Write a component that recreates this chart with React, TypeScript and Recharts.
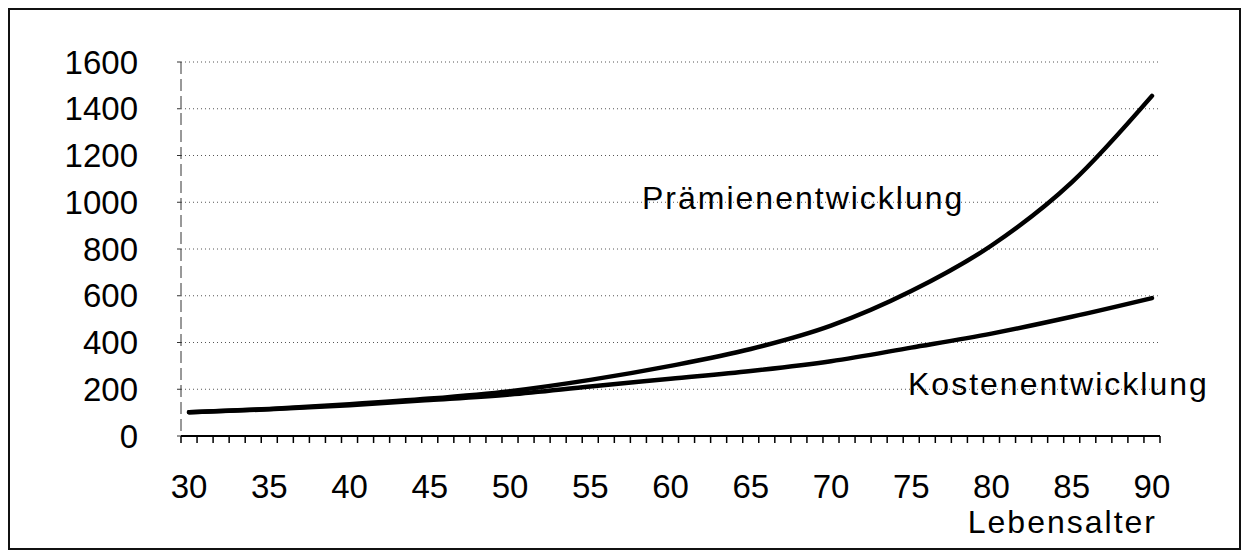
import { CartesianGrid, Line, LineChart, XAxis, YAxis } from "recharts";

// Lebensalter (every 5 years) and the two curves
const ages = [30, 35, 40, 45, 50, 55, 60, 65, 70, 75, 80, 85, 90];
const praemien = [102, 116, 136, 160, 192, 240, 300, 372, 472, 620, 815, 1085, 1455];
const kosten = [102, 114, 132, 154, 178, 212, 245, 278, 320, 378, 438, 510, 590];

const yTicks = [0, 200, 400, 600, 800, 1000, 1200, 1400, 1600];
const labelTicks = [30, 35, 40, 45, 50, 55, 60, 65, 70, 75, 80, 85, 90];
// one small tick mark between each year
const yearMarks = Array.from({ length: 62 }, (_, i) => 29.5 + i);

const data = ages.map((age, i) => ({ age, praemien: praemien[i], kosten: kosten[i] }));

const FONT = '"Liberation Sans", Arial, sans-serif';

const App = () => {
    return (
        <div style={{ position: "relative", width: 1233, height: 545, fontFamily: FONT }}>
            <div
                style={{
                    position: "absolute",
                    left: 0,
                    top: 0,
                    width: 1233,
                    height: 542,
                    border: "2px solid #111",
                    boxSizing: "border-box",
                }}
            />
            <LineChart
                width={1233}
                height={545}
                data={data}
                margin={{ top: 54, right: 81, left: 0, bottom: 57 }}
                style={{ position: "absolute", left: 0, top: 0 }}
            >
                <CartesianGrid horizontal vertical={false} stroke="#555" strokeDasharray="1 3" xAxisId={0} />
                {/* year tick marks, right under the plot */}
                <XAxis
                    xAxisId={0}
                    dataKey="age"
                    type="number"
                    domain={[29.5, 90.5]}
                    ticks={yearMarks}
                    interval={0}
                    allowDataOverflow
                    tickFormatter={() => ""}
                    tickSize={7}
                    height={10}
                    axisLine={{ stroke: "#000", strokeWidth: 2 }}
                    tickLine={{ stroke: "#000", strokeWidth: 1.5 }}
                />
                {/* age labels every 5 years */}
                <XAxis
                    xAxisId={1}
                    dataKey="age"
                    type="number"
                    domain={[29.5, 90.5]}
                    ticks={labelTicks}
                    interval={0}
                    allowDataOverflow
                    axisLine={false}
                    tickLine={false}
                    tickSize={0}
                    tickMargin={29}
                    height={50}
                    tick={{ fill: "#000", fontSize: 33, fontFamily: FONT }}
                />
                <YAxis
                    domain={[0, 1600]}
                    ticks={yTicks}
                    interval={0}
                    width={173}
                    tickSize={4}
                    tickMargin={39}
                    axisLine={{ stroke: "#333", strokeDasharray: "12 5" }}
                    tickLine={{ stroke: "#333" }}
                    tick={{ fill: "#000", fontSize: 33, fontFamily: FONT }}
                />
                <Line
                    xAxisId={0}
                    type="monotone"
                    dataKey="kosten"
                    stroke="#000"
                    strokeWidth={4.5}
                    strokeLinecap="round"
                    dot={false}
                    isAnimationActive={false}
                />
                <Line
                    xAxisId={0}
                    type="monotone"
                    dataKey="praemien"
                    stroke="#000"
                    strokeWidth={4.5}
                    strokeLinecap="round"
                    dot={false}
                    isAnimationActive={false}
                />
            </LineChart>
            <svg
                width={1233}
                height={545}
                style={{ position: "absolute", left: 0, top: 0, pointerEvents: "none" }}
            >
                <text x={634} y={201} fontSize={32} letterSpacing={2} fill="#000" fontFamily={FONT}>
                    Prämienentwicklung
                </text>
                <text x={900} y={387} fontSize={32} letterSpacing={2} fill="#000" fontFamily={FONT}>
                    Kostenentwicklung
                </text>
                <text x={1149} y={525} fontSize={32} letterSpacing={2} textAnchor="end" fill="#000" fontFamily={FONT}>
                    Lebensalter
                </text>
            </svg>
        </div>
    );
};

export default App;
